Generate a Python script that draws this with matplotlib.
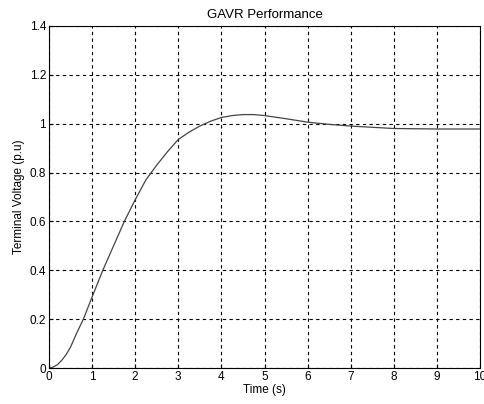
import matplotlib
matplotlib.use("Agg")
import matplotlib.pyplot as plt

# response
time_s = [0, 0.1, 0.2, 0.3, 0.4, 0.5, 0.65, 0.8, 1.0, 1.25, 1.5, 1.75, 2.0, 2.25, 2.5, 2.75, 3.0,
          3.25, 3.5, 3.75, 4.0, 4.25, 4.5, 4.75, 5.0, 5.5, 6.0, 6.5, 7.0, 7.5, 8.0, 9.0, 10.0]
voltage = [0, 0.004, 0.014, 0.032, 0.055, 0.085, 0.145, 0.2, 0.29, 0.4, 0.5, 0.6, 0.688, 0.77, 0.83, 0.885, 0.935,
           0.965, 0.99, 1.01, 1.025, 1.033, 1.037, 1.037, 1.033, 1.02, 1.006, 0.997, 0.99, 0.985, 0.98, 0.978, 0.978]
xticks = list(range(0, 11))
yticks = [0, 0.2, 0.4, 0.6, 0.8, 1.0, 1.2, 1.4]
ytick_labels = ["0", "0.2", "0.4", "0.6", "0.8", "1", "1.2", "1.4"]

plt.rcParams['font.family'] = ['Liberation Sans', 'DejaVu Sans']
plt.rcParams['font.size'] = 8.5

fig = plt.figure(figsize=(4.84, 4.04), dpi=100)
ax = fig.add_axes([0.101, 0.089, 0.891, 0.847])
ax.plot(time_s, voltage, color='#444444', linewidth=0.9)

ax.set_xlim(0, 10)
ax.set_ylim(0, 1.4)
ax.set_xticks(xticks)
ax.set_yticks(yticks)
ax.set_yticklabels(ytick_labels)
ax.tick_params(direction='in', length=3, width=0.8, pad=2, colors='black')
ax.grid(True, color='black', linestyle=(0, (3, 3)), linewidth=0.8)
for s in ax.spines.values():
    s.set_linewidth(0.8)

ax.set_title("GAVR Performance", fontsize=9.5, pad=6)
ax.set_xlabel("Time (s)", labelpad=1)
ax.set_ylabel("Terminal Voltage (p.u)", labelpad=3)

fig.savefig("out.png", dpi=100)
